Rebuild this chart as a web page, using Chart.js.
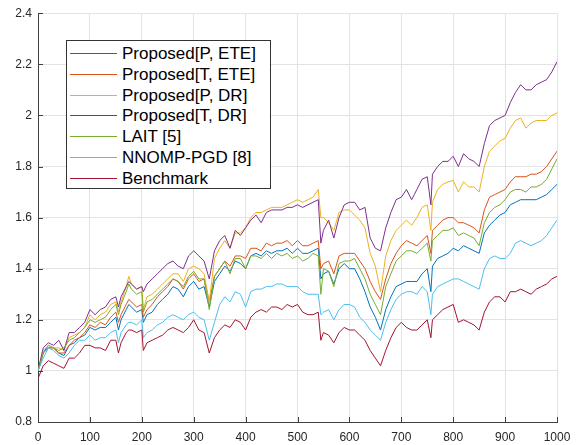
<!DOCTYPE html>
<html>
<head>
<meta charset="utf-8">
<script src="https://cdn.jsdelivr.net/npm/chart.js@4"></script>
<style>
  html, body { margin: 0; padding: 0; background: #fff; }
  #wrap { position: relative; width: 584px; height: 445px; }
  #legend {
    position: absolute; left: 66px; top: 40px; width: 203px; height: 147px;
    border: 1px solid #333; background: #fff;
    font-family: 'Liberation Sans', Arial, sans-serif; font-size: 17px; color: #000;
  }
  .row { position: absolute; left: 0; height: 21px; line-height: 21px; width: 100%; }
  .row .sw { position: absolute; left: 3px; top: 10px; width: 47px; height: 1px; }
  .row .txt { position: absolute; left: 55px; top: 0; white-space: nowrap; }
</style>
</head>
<body>
<div id="wrap">
  <canvas id="chart" width="584" height="445"></canvas>
  <div id="legend"></div>
</div>
<script>
// x positions of the samples (trading days)
const dayIdx = [
  0,10,20,30,40,50,60,70,80,90,
  100,110,120,130,140,150,155,160,170,175,
  180,190,200,203,210,220,230,240,250,260,
  270,280,290,300,310,320,330,340,350,360,
  370,380,390,400,410,420,430,440,450,460,
  470,480,490,500,510,520,530,540,545,550,
  560,570,580,590,600,610,620,630,640,650,
  660,670,680,690,700,710,720,730,740,750,
  757,760,770,780,790,800,810,820,830,840,
  850,860,870,880,890,900,910,920,930,940,
  950,960,970,980,990,1000
]

const proposedPEte = [
  1.00,1.07,1.10,1.09,1.07,1.06,1.10,1.11,1.13,1.14,
  1.17,1.16,1.17,1.17,1.19,1.21,1.16,1.20,1.24,1.26,
  1.25,1.23,1.24,1.19,1.22,1.23,1.26,1.28,1.30,1.33,
  1.32,1.29,1.33,1.35,1.32,1.33,1.25,1.35,1.38,1.41,
  1.39,1.43,1.42,1.40,1.45,1.46,1.45,1.47,1.46,1.47,
  1.47,1.48,1.46,1.48,1.46,1.46,1.47,1.48,1.36,1.38,
  1.39,1.34,1.40,1.42,1.40,1.40,1.36,1.31,1.25,1.21,
  1.16,1.24,1.29,1.33,1.34,1.35,1.35,1.35,1.38,1.40,
  1.31,1.41,1.44,1.45,1.46,1.48,1.47,1.49,1.48,1.47,
  1.46,1.54,1.57,1.59,1.61,1.62,1.65,1.66,1.67,1.67,
  1.67,1.67,1.68,1.69,1.71,1.73
]

const proposedTEte = [
  1.00,1.07,1.09,1.09,1.07,1.07,1.10,1.12,1.13,1.15,
  1.18,1.17,1.19,1.18,1.21,1.23,1.19,1.22,1.26,1.28,
  1.27,1.25,1.26,1.21,1.24,1.26,1.29,1.31,1.33,1.36,
  1.35,1.32,1.36,1.38,1.35,1.36,1.27,1.37,1.40,1.43,
  1.41,1.45,1.45,1.44,1.48,1.48,1.47,1.50,1.49,1.50,
  1.50,1.51,1.49,1.51,1.49,1.49,1.50,1.51,1.40,1.42,
  1.43,1.38,1.45,1.46,1.46,1.46,1.43,1.40,1.35,1.31,
  1.28,1.36,1.42,1.46,1.49,1.51,1.50,1.49,1.51,1.53,
  1.46,1.55,1.57,1.59,1.60,1.60,1.58,1.58,1.57,1.56,
  1.54,1.63,1.68,1.69,1.70,1.71,1.74,1.76,1.76,1.76,
  1.77,1.77,1.78,1.80,1.83,1.86
]

const proposedPDr = [
  1.00,1.08,1.10,1.09,1.09,1.08,1.13,1.14,1.15,1.17,
  1.22,1.20,1.22,1.23,1.26,1.27,1.23,1.27,1.33,1.37,
  1.34,1.32,1.33,1.24,1.29,1.30,1.32,1.34,1.36,1.38,
  1.38,1.35,1.40,1.41,1.40,1.38,1.27,1.44,1.48,1.51,
  1.48,1.54,1.54,1.56,1.60,1.62,1.62,1.63,1.64,1.64,
  1.64,1.65,1.66,1.67,1.66,1.67,1.68,1.71,1.60,1.60,
  1.58,1.55,1.62,1.63,1.63,1.61,1.59,1.56,1.46,1.41,
  1.31,1.45,1.51,1.55,1.57,1.59,1.57,1.60,1.64,1.65,
  1.55,1.66,1.71,1.73,1.74,1.745,1.70,1.74,1.72,1.72,
  1.70,1.80,1.86,1.88,1.90,1.91,1.95,1.98,1.99,1.95,
  1.97,1.98,1.98,1.98,2.00,2.01
]

const proposedTDr = [
  1.00,1.09,1.11,1.10,1.12,1.08,1.15,1.15,1.17,1.19,
  1.24,1.22,1.24,1.25,1.28,1.29,1.25,1.29,1.33,1.35,
  1.34,1.32,1.33,1.31,1.34,1.36,1.38,1.40,1.42,1.43,
  1.41,1.40,1.45,1.47,1.45,1.43,1.36,1.47,1.51,1.53,
  1.48,1.55,1.53,1.56,1.59,1.61,1.58,1.62,1.63,1.63,
  1.63,1.64,1.64,1.65,1.64,1.65,1.66,1.67,1.50,1.55,
  1.59,1.52,1.60,1.65,1.66,1.66,1.63,1.64,1.52,1.48,
  1.47,1.56,1.62,1.67,1.68,1.71,1.67,1.71,1.75,1.76,
  1.65,1.77,1.80,1.82,1.82,1.84,1.80,1.85,1.83,1.82,
  1.80,1.89,1.96,1.98,1.99,2.00,2.05,2.09,2.12,2.10,
  2.10,2.12,2.13,2.14,2.17,2.21
]

const lait = [
  1.00,1.07,1.09,1.09,1.08,1.09,1.12,1.13,1.15,1.17,
  1.20,1.19,1.20,1.21,1.24,1.26,1.22,1.26,1.31,1.34,
  1.32,1.30,1.31,1.23,1.27,1.28,1.30,1.32,1.34,1.36,
  1.35,1.33,1.37,1.39,1.36,1.36,1.24,1.37,1.40,1.43,
  1.38,1.44,1.44,1.40,1.45,1.45,1.44,1.46,1.44,1.46,
  1.45,1.46,1.44,1.45,1.43,1.44,1.46,1.45,1.30,1.40,
  1.39,1.33,1.42,1.43,1.43,1.44,1.40,1.36,1.30,1.26,
  1.22,1.33,1.38,1.43,1.45,1.47,1.47,1.46,1.48,1.50,
  1.43,1.51,1.53,1.55,1.55,1.56,1.53,1.54,1.53,1.52,
  1.49,1.58,1.62,1.64,1.65,1.67,1.70,1.71,1.71,1.70,
  1.72,1.72,1.73,1.75,1.79,1.83
]

const nnompPgd = [
  1.00,1.05,1.09,1.08,1.06,1.05,1.07,1.10,1.12,1.12,
  1.14,1.12,1.13,1.13,1.15,1.16,1.11,1.15,1.18,1.19,
  1.19,1.18,1.20,1.13,1.15,1.16,1.18,1.19,1.21,1.22,
  1.21,1.20,1.22,1.23,1.21,1.20,1.12,1.19,1.26,1.29,
  1.27,1.31,1.30,1.25,1.31,1.32,1.32,1.33,1.33,1.34,
  1.34,1.33,1.33,1.33,1.31,1.30,1.30,1.30,1.22,1.23,
  1.24,1.20,1.24,1.26,1.26,1.25,1.21,1.19,1.16,1.14,
  1.12,1.19,1.24,1.28,1.30,1.31,1.31,1.30,1.33,1.31,
  1.22,1.30,1.33,1.34,1.35,1.36,1.36,1.35,1.34,1.33,
  1.32,1.40,1.44,1.45,1.44,1.44,1.46,1.50,1.51,1.50,
  1.49,1.50,1.51,1.53,1.56,1.59
]

const benchmark = [
  0.97,1.02,1.04,1.03,1.02,1.01,1.05,1.05,1.07,1.10,
  1.10,1.09,1.09,1.08,1.12,1.12,1.07,1.11,1.15,1.16,
  1.16,1.15,1.16,1.08,1.11,1.12,1.13,1.14,1.16,1.17,
  1.16,1.15,1.17,1.20,1.16,1.15,1.07,1.13,1.16,1.18,
  1.17,1.20,1.19,1.16,1.21,1.23,1.24,1.23,1.25,1.25,
  1.24,1.26,1.25,1.26,1.23,1.22,1.22,1.23,1.12,1.15,
  1.14,1.11,1.15,1.17,1.16,1.16,1.14,1.12,1.08,1.05,
  1.02,1.08,1.13,1.17,1.19,1.17,1.16,1.16,1.18,1.20,
  1.13,1.20,1.22,1.24,1.25,1.26,1.19,1.20,1.19,1.18,
  1.16,1.23,1.27,1.29,1.29,1.27,1.31,1.31,1.32,1.31,
  1.30,1.32,1.33,1.34,1.36,1.37
]

const seriesLabels = ['Proposed[P, ETE]', 'Proposed[T, ETE]', 'Proposed[P, DR]', 'Proposed[T, DR]', 'LAIT [5]', 'NNOMP-PGD [8]', 'Benchmark']
const seriesValues = [proposedPEte, proposedTEte, proposedPDr, proposedTDr, lait, nnompPgd, benchmark]
const seriesColors = ['#0072BD', '#D95319', '#EDB120', '#7E2F8E', '#77AC30', '#4DBEEE', '#A2142F']

const xTicks = [0, 100, 200, 300, 400, 500, 600, 700, 800, 900, 1000]
const yTicks = [0.8, 1.0, 1.2, 1.4, 1.6, 1.8, 2.0, 2.2, 2.4]

const axisColor = '#404040'

// matlab style ticks pointing into the plot
const innerTicks = {
  id: 'innerTicks',
  afterDraw(chart) {
    const { ctx, chartArea, scales } = chart
    ctx.save()
    ctx.strokeStyle = axisColor
    ctx.lineWidth = 1
    ctx.beginPath()
    xTicks.forEach(v => {
      const px = Math.round(scales.x.getPixelForValue(v)) + 0.5
      ctx.moveTo(px, chartArea.bottom)
      ctx.lineTo(px, chartArea.bottom - 5)
    })
    yTicks.forEach(v => {
      const py = Math.round(scales.y.getPixelForValue(v)) + 0.5
      ctx.moveTo(chartArea.left, py)
      ctx.lineTo(chartArea.left + 5, py)
    })
    ctx.stroke()
    ctx.restore()
  }
}

Chart.defaults.font.family = "'Liberation Sans', Arial, sans-serif"
Chart.defaults.font.size = 12
Chart.defaults.color = '#262626'

const datasets = seriesValues.map((vals, i) => ({
  label: seriesLabels[i],
  data: dayIdx.map((d, j) => ({ x: d, y: vals[j] })),
  borderColor: seriesColors[i],
  backgroundColor: seriesColors[i],
  borderWidth: 1,
  pointRadius: 0,
  tension: 0,
  fill: false,
  // last series on top, like matlab
  order: seriesValues.length - i
}))

new Chart(document.getElementById('chart'), {
  type: 'line',
  data: { datasets },
  options: {
    responsive: false,
    animation: false,
    layout: { padding: { top: 12, right: 27, left: 0, bottom: 0 } },
    plugins: { legend: { display: false }, tooltip: { enabled: false } },
    scales: {
      x: {
        type: 'linear',
        min: 0,
        max: 1000,
        afterBuildTicks: s => { s.ticks = xTicks.map(v => ({ value: v })) },
        afterFit: s => { s.height = 23 },
        ticks: { padding: 8, maxRotation: 0, callback: v => String(v) },
        grid: { color: '#e3e3e3', drawTicks: false },
        border: { display: true, color: axisColor }
      },
      y: {
        type: 'linear',
        min: 0.8,
        max: 2.4,
        afterBuildTicks: s => { s.ticks = yTicks.map(v => ({ value: v })) },
        afterFit: s => { s.width = 38 },
        ticks: { padding: 6, callback: v => String(+v.toFixed(1)) },
        grid: { color: '#e3e3e3', drawTicks: false },
        border: { display: true, color: axisColor }
      }
    }
  },
  plugins: [innerTicks]
})

// legend box drawn in html over the plot
const legendBox = document.getElementById('legend')
seriesLabels.forEach((name, i) => {
  const row = document.createElement('div')
  row.className = 'row'
  row.style.top = (2 + i * 20.75) + 'px'
  row.innerHTML = `<span class="sw" style="background:${seriesColors[i]}"></span><span class="txt">${name}</span>`
  legendBox.appendChild(row)
})
</script>
</body>
</html>
